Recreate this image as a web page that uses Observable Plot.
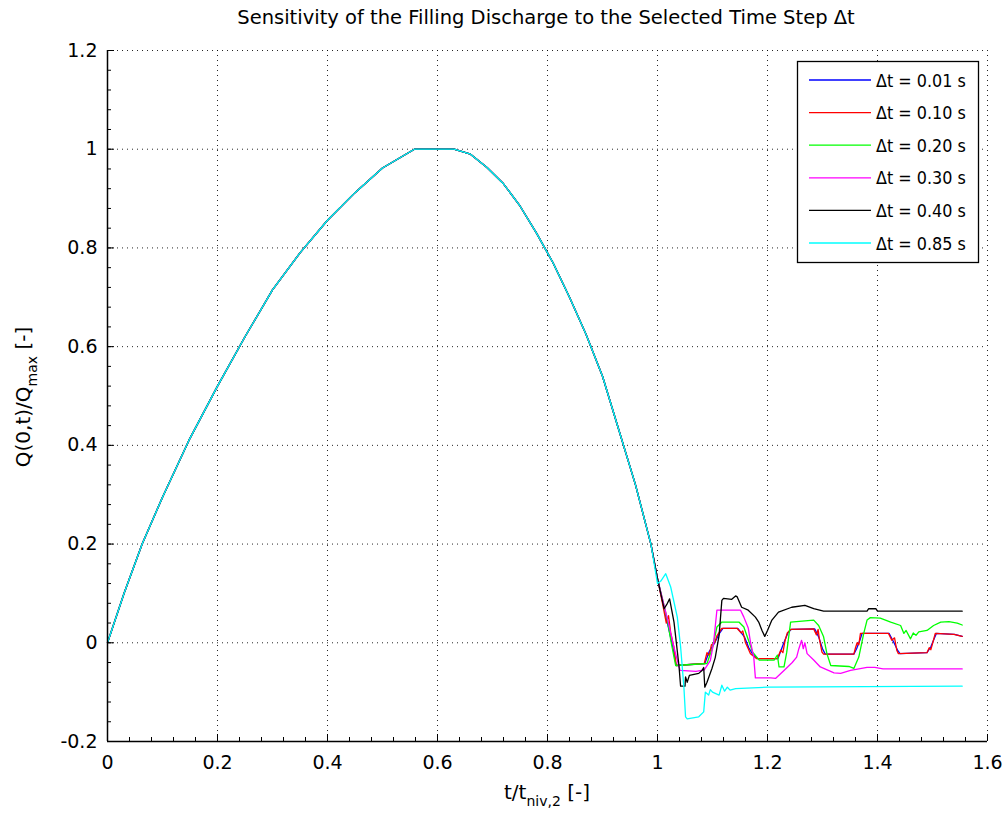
<!DOCTYPE html>
<html>
<head>
<meta charset="utf-8">
<script src="https://cdn.jsdelivr.net/npm/d3@7"></script>
<script src="https://cdn.jsdelivr.net/npm/@observablehq/plot@0.6"></script>
<style>
  body { margin: 0; background: #fff; }
  svg { display: block; }
</style>
</head>
<body>
<div id="chart"></div>
<script>
// Series names and colours
const seriesLabels = ["Δt = 0.01 s", "Δt = 0.10 s", "Δt = 0.20 s", "Δt = 0.30 s", "Δt = 0.40 s", "Δt = 0.85 s"];
const seriesColors = ["#0000ff", "#ff0000", "#00ff00", "#ff00ff", "#000000", "#00ffff"];

// Common filling phase (all time steps coincide here)
const riseT = [0, 0.03, 0.063, 0.1, 0.148, 0.2, 0.25, 0.3, 0.35, 0.4, 0.45, 0.5, 0.558, 0.63, 0.66, 0.69, 0.72, 0.75, 0.78, 0.81, 0.84, 0.87, 0.9, 0.93, 0.96, 0.988];
const riseQ = [0, 0.1, 0.2, 0.295, 0.41, 0.52, 0.62, 0.715, 0.79, 0.856, 0.912, 0.962, 1.0, 1.0, 0.99, 0.963, 0.93, 0.885, 0.83, 0.77, 0.70, 0.625, 0.54, 0.43, 0.32, 0.2];

// Oscillating tails after t/t_niv,2 = 1
const tail001T = [1.0, 1.012, 1.02, 1.028, 1.034, 1.086, 1.094, 1.104, 1.112, 1.119, 1.146, 1.158, 1.166, 1.174, 1.182, 1.219, 1.228, 1.237, 1.243, 1.286, 1.293, 1.3, 1.305, 1.357, 1.362, 1.368, 1.372, 1.421, 1.43, 1.437, 1.441, 1.49, 1.497, 1.503, 1.507, 1.54, 1.554];
const tail001Q = [0.13, 0.07, 0.03, -0.01, -0.046, -0.042, -0.018, 0.0, 0.018, 0.029, 0.029, 0.012, -0.01, -0.025, -0.032, -0.032, -0.005, 0.02, 0.027, 0.028, 0.012, -0.012, -0.023, -0.023, -0.012, 0.005, 0.019, 0.019, 0.0, -0.016, -0.022, -0.02, -0.008, 0.008, 0.019, 0.017, 0.013];

const tail010T = [1.0, 1.01, 1.016, 1.02, 1.024, 1.03, 1.034, 1.085, 1.09, 1.094, 1.098, 1.104, 1.108, 1.117, 1.145, 1.152, 1.155, 1.16, 1.165, 1.169, 1.18, 1.218, 1.224, 1.228, 1.232, 1.236, 1.242, 1.284, 1.289, 1.292, 1.294, 1.299, 1.302, 1.357, 1.36, 1.363, 1.366, 1.369, 1.42, 1.426, 1.431, 1.435, 1.438, 1.49, 1.494, 1.497, 1.501, 1.505, 1.539, 1.554];
const tail010Q = [0.13, 0.075, 0.04, 0.055, 0.02, -0.01, -0.046, -0.042, -0.02, -0.026, -0.004, 0.0, 0.014, 0.029, 0.029, 0.02, 0.024, 0.0, -0.012, -0.022, -0.032, -0.032, -0.015, -0.02, 0.005, 0.02, 0.027, 0.028, 0.016, 0.027, 0.01, -0.019, -0.023, -0.023, -0.01, 0.0, -0.004, 0.019, 0.019, 0.005, 0.01, -0.015, -0.022, -0.02, -0.01, -0.014, 0.002, 0.019, 0.017, 0.013];

const tail020T = [1.0, 1.012, 1.018, 1.025, 1.033, 1.09, 1.1, 1.108, 1.117, 1.148, 1.157, 1.173, 1.185, 1.212, 1.218, 1.221, 1.23, 1.235, 1.242, 1.284, 1.293, 1.302, 1.308, 1.315, 1.348, 1.357, 1.366, 1.375, 1.381, 1.387, 1.405, 1.424, 1.442, 1.448, 1.452, 1.46, 1.465, 1.47, 1.475, 1.49, 1.502, 1.515, 1.53, 1.545, 1.554];
const tail020Q = [0.13, 0.075, 0.046, 0.0, -0.046, -0.042, -0.01, 0.032, 0.042, 0.042, 0.032, -0.019, -0.035, -0.035, -0.025, -0.049, -0.049, -0.019, 0.042, 0.046, 0.035, 0.012, -0.022, -0.046, -0.048, -0.052, -0.029, 0.019, 0.046, 0.051, 0.05, 0.042, 0.035, 0.019, 0.025, 0.008, 0.02, 0.015, 0.022, 0.025, 0.035, 0.042, 0.043, 0.04, 0.036];

const tail030T = [1.0, 1.012, 1.02, 1.03, 1.041, 1.07, 1.085, 1.096, 1.102, 1.108, 1.151, 1.157, 1.165, 1.169, 1.175, 1.178, 1.206, 1.215, 1.23, 1.245, 1.253, 1.257, 1.262, 1.265, 1.268, 1.272, 1.284, 1.296, 1.321, 1.333, 1.351, 1.381, 1.395, 1.41, 1.554];
const tail030Q = [0.13, 0.075, 0.04, -0.01, -0.056, -0.058, -0.055, -0.036, 0.0, 0.066, 0.066, 0.052, 0.03, 0.002, -0.029, -0.071, -0.071, -0.072, -0.056, -0.04, -0.029, -0.012, 0.005, -0.012, 0.0, -0.022, -0.035, -0.049, -0.061, -0.062, -0.056, -0.05, -0.05, -0.053, -0.053];

const tail040T = [1.0, 1.012, 1.018, 1.022, 1.03, 1.039, 1.042, 1.05, 1.051, 1.054, 1.058, 1.075, 1.081, 1.084, 1.086, 1.09, 1.099, 1.105, 1.112, 1.117, 1.12, 1.135, 1.142, 1.145, 1.153, 1.165, 1.178, 1.184, 1.19, 1.195, 1.2, 1.208, 1.22, 1.244, 1.268, 1.284, 1.302, 1.381, 1.384, 1.397, 1.4, 1.554];
const tail040Q = [0.13, 0.069, 0.08, 0.089, 0.042, -0.046, -0.088, -0.088, -0.069, -0.08, -0.066, -0.062, -0.056, -0.05, -0.09, -0.08, -0.052, -0.03, 0.015, 0.086, 0.09, 0.088, 0.095, 0.093, 0.072, 0.066, 0.052, 0.042, 0.025, 0.013, 0.025, 0.046, 0.062, 0.072, 0.076, 0.069, 0.064, 0.064, 0.069, 0.069, 0.064, 0.064];

const tail085T = [1.0, 1.006, 1.015, 1.024, 1.036, 1.042, 1.048, 1.051, 1.054, 1.075, 1.084, 1.087, 1.093, 1.096, 1.1, 1.112, 1.117, 1.122, 1.127, 1.132, 1.142, 1.2, 1.554];
const tail085Q = [0.12, 0.125, 0.14, 0.113, 0.052, -0.008, -0.09, -0.15, -0.154, -0.15, -0.14, -0.1, -0.106, -0.095, -0.1, -0.106, -0.086, -0.098, -0.09, -0.096, -0.093, -0.09, -0.088];

// Axis ticks
const xTicks = [0, 0.2, 0.4, 0.6, 0.8, 1, 1.2, 1.4, 1.6];
const xTickLabels = ["0", "0.2", "0.4", "0.6", "0.8", "1", "1.2", "1.4", "1.6"];
const yTicks = [-0.2, 0, 0.2, 0.4, 0.6, 0.8, 1, 1.2];
const yTickLabels = ["-0.2", "0", "0.2", "0.4", "0.6", "0.8", "1", "1.2"];

// Assemble long-format rows: shared rise followed by each series' tail
const tails = [
  [tail001T, tail001Q], [tail010T, tail010Q], [tail020T, tail020Q],
  [tail030T, tail030Q], [tail040T, tail040Q], [tail085T, tail085Q]
];
const rows = [];
tails.forEach(([tt, qq], i) => {
  const s = seriesLabels[i];
  riseT.forEach((t, k) => rows.push({series: s, t, q: riseQ[k]}));
  tt.forEach((t, k) => rows.push({series: s, t, q: qq[k]}));
});

const W = 1007, H = 814;
const mTop = 50, mBottom = 73, mLeft = 107, mRight = 20;
const frameW = W - mLeft - mRight, frameH = H - mTop - mBottom;
const xMinor = d3.range(0, 1.6001, 0.04);
const yMinor = d3.range(-0.2, 1.2001, 0.04);
const font = "'DejaVu Sans', sans-serif";
const legendFont = "'DejaVu Sans Condensed', 'DejaVu Sans', sans-serif";

const chart = Plot.plot({
  width: W,
  height: H,
  marginTop: mTop,
  marginBottom: mBottom,
  marginLeft: mLeft,
  marginRight: mRight,
  style: {fontFamily: font, fontSize: "19px", color: "#000", background: "#fff"},
  x: {domain: [0, 1.6]},
  y: {domain: [-0.2, 1.2]},
  color: {domain: seriesLabels, range: seriesColors},
  marks: [
    Plot.gridX(xTicks, {stroke: "#000", strokeOpacity: 0.85, strokeDasharray: "1,4"}),
    Plot.gridY(yTicks, {stroke: "#000", strokeOpacity: 0.85, strokeDasharray: "1,4"}),
    Plot.line(rows, {x: "t", y: "q", z: "series", stroke: "series", strokeWidth: 1.3}),
    // inward tick marks on the left and bottom axes
    Plot.tickX(xMinor, {x: d => d, insetTop: frameH - 4, stroke: "#000"}),
    Plot.tickX(xTicks, {x: d => d, insetTop: frameH - 7, stroke: "#000"}),
    Plot.tickY(yMinor, {y: d => d, insetRight: frameW - 4, stroke: "#000"}),
    Plot.tickY(yTicks, {y: d => d, insetRight: frameW - 7, stroke: "#000"}),
    Plot.ruleX([0], {stroke: "#000", strokeWidth: 1.5}),
    Plot.ruleY([-0.2], {stroke: "#000", strokeWidth: 1.5}),
    Plot.axisX({ticks: xTicks, tickSize: 0, tickPadding: 14, label: null,
      tickFormat: d => xTickLabels[xTicks.indexOf(d)]}),
    Plot.axisY({ticks: yTicks, tickSize: 0, tickPadding: 10, label: null,
      tickFormat: d => yTickLabels[yTicks.indexOf(d)]})
  ]
});

document.getElementById("chart").appendChild(chart);

const svg = d3.select(chart);

// Title
svg.append("text")
  .attr("x", 546).attr("y", 24)
  .attr("text-anchor", "middle")
  .style("font-family", font).style("font-size", "19.5px")
  .text("Sensitivity of the Filling Discharge to the Selected Time Step Δt");

// X axis label with subscript
const xl = svg.append("text")
  .attr("x", mLeft + frameW / 2).attr("y", 799)
  .attr("text-anchor", "middle")
  .style("font-family", font).style("font-size", "20px");
xl.append("tspan").text("t/t");
xl.append("tspan").attr("dy", 7).style("font-size", "14px").text("niv,2");
xl.append("tspan").attr("dy", -7).text(" [-]");

// Y axis label with subscript
const yl = svg.append("text")
  .attr("transform", `translate(30, 397) rotate(-90)`)
  .attr("text-anchor", "middle")
  .style("font-family", font).style("font-size", "20px");
yl.append("tspan").text("Q(0,t)/Q");
yl.append("tspan").attr("dy", 7).style("font-size", "14px").text("max");
yl.append("tspan").attr("dy", -7).text(" [-]");

// Legend
const lg = svg.append("g");
lg.append("rect")
  .attr("x", 797.5).attr("y", 61.5).attr("width", 181).attr("height", 201)
  .attr("fill", "#fff").attr("stroke", "#000").attr("stroke-width", 1.3);
seriesLabels.forEach((s, i) => {
  const yy = 80 + i * 32.6;
  lg.append("line")
    .attr("x1", 809).attr("x2", 871).attr("y1", yy).attr("y2", yy)
    .attr("stroke", seriesColors[i]).attr("stroke-width", 1.3);
  lg.append("text")
    .attr("x", 876).attr("y", yy + 6.5)
    .attr("text-anchor", "start")
    .style("font-family", legendFont).style("font-size", "17.8px")
    .text(s);
});
</script>
</body>
</html>
